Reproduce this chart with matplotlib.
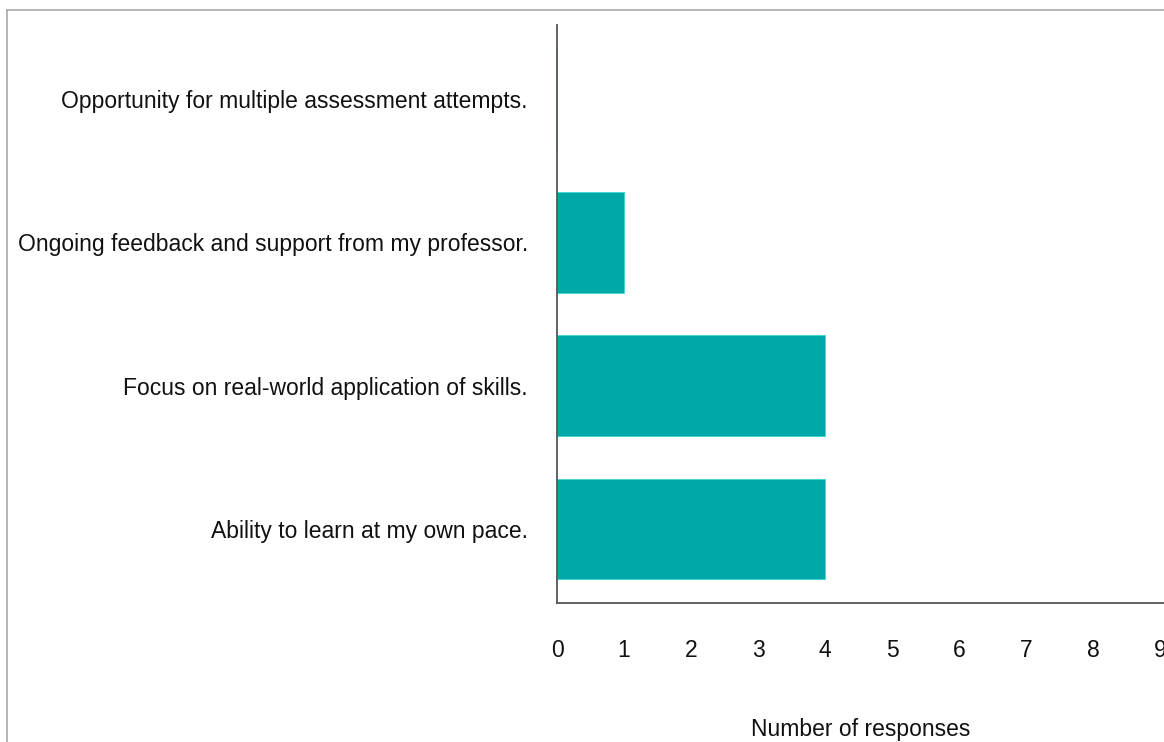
import matplotlib.pyplot as plt
from matplotlib.lines import Line2D

plt.rcParams['font.family'] = ['Liberation Sans', 'DejaVu Sans']

categories = ["Ability to learn at my own pace.",
              "Focus on real-world application of skills.",
              "Ongoing feedback and support from my professor.",
              "Opportunity for multiple assessment attempts."]
responses = [4, 4, 1, 0]
xticks = list(range(0, 10))

W, H = 1164, 742
my_dpi = 100
fig = plt.figure(figsize=(W / my_dpi, H / my_dpi), dpi=my_dpi)
ax = fig.add_axes([557 / W, (H - 603) / H, (W - 557) / W, (603 - 25) / H])

ax.barh(range(len(categories)), responses, height=0.7, color='#00A9A8', edgecolor='#3FD6D6', linewidth=0.6)

ax.set_xlim(0, (W - 557) / 67.0)
ax.set_ylim(-0.52, 3.52)
ax.set_yticks(range(len(categories)))
ax.set_yticklabels(categories, fontsize=16.5, color='#111111')
ax.set_xticks(xticks)
ax.set_xticklabels([str(t) for t in xticks], fontsize=16.5, color='#111111')
ax.tick_params(axis='both', length=0)
ax.tick_params(axis='x', pad=26)
ax.tick_params(axis='y', pad=21)
ax.set_xlabel("Number of responses", fontsize=16.5, color='#111111', labelpad=40)

for s in ['top', 'right']:
    ax.spines[s].set_visible(False)
for s in ['left', 'bottom']:
    ax.spines[s].set_color('#555555')
    ax.spines[s].set_linewidth(1.3)

# thin gray frame at top and left of the picture
fig.add_artist(Line2D([7 / W, 1], [1 - 10 / H, 1 - 10 / H], color='#aaaaaa', lw=1.2, transform=fig.transFigure))
fig.add_artist(Line2D([7 / W, 7 / W], [0, 1 - 10 / H], color='#aaaaaa', lw=1.2, transform=fig.transFigure))

plt.savefig("out.png", dpi=my_dpi)
